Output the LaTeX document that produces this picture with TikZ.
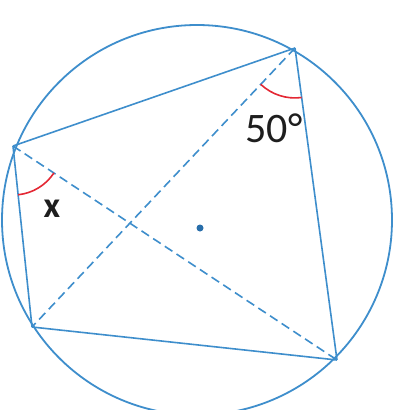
\documentclass[tikz,border=0pt]{standalone}
\usepackage{fontspec}
\setmainfont{Carlito}
\definecolor{lineblue}{RGB}{62,142,204}
\definecolor{dotblue}{RGB}{40,110,170}
\definecolor{markred}{RGB}{228,40,52}
\definecolor{txt}{RGB}{30,30,30}
\begin{document}
\begin{tikzpicture}[x=1pt,y=-1pt,
  edge/.style={draw=lineblue,line width=1.6pt},
  dashedge/.style={edge,dash pattern=on 9pt off 5pt},
  anglemark/.style={draw=markred,line width=1.6pt},
  lbl/.style={text=txt,font=\fontsize{42}{44}\selectfont,inner sep=0pt}]
\useasboundingbox (0,0) rectangle (393,410);
\fill[white] (0,0) rectangle (393,410);
\coordinate (O) at (197,220);
\coordinate (A) at (295,48);
\coordinate (B) at (13,146);
\coordinate (C) at (32,327);
\coordinate (D) at (337,360);
\draw[edge,line width=1.8pt] (O) circle (195pt);
\draw[edge] (B) -- (A);
\draw[edge] (A) -- (D);
\draw[edge] (B) -- (C);
\draw[edge] (C) -- (D);
\draw[dashedge] (A) -- (C);
\draw[dashedge] (B) -- (D);
\draw[anglemark] (301.7,97.5) arc[start angle=82.3,end angle=133.3,radius=50];
\draw[anglemark] (53.9,173) arc[start angle=33.4,end angle=84.0,radius=49];
\fill[dotblue] (200,228) circle (3.5pt);
\node[lbl] (t50) at (274,128) {50°};
\node[lbl,font=\bfseries\fontsize{36}{38}\selectfont] (tx) at (52,209) {x};
\end{tikzpicture}
\end{document}
